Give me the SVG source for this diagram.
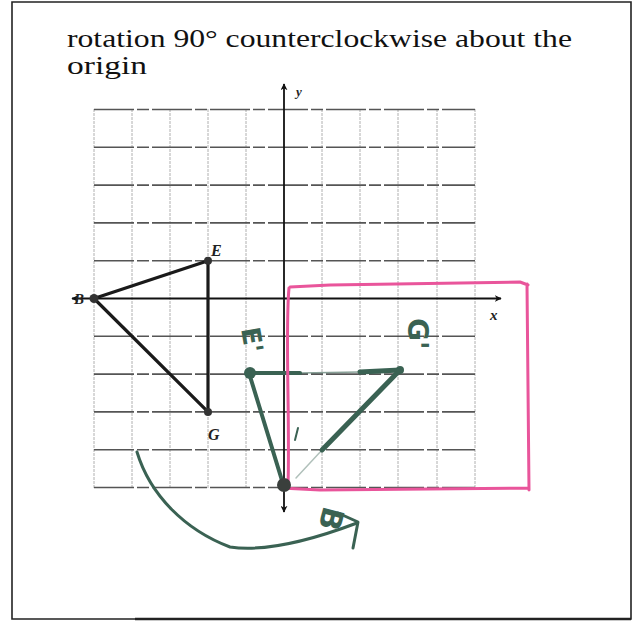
<svg xmlns="http://www.w3.org/2000/svg" width="633" height="622" viewBox="0 0 633 622">
<style>
.title{font-family:"Liberation Serif","Times New Roman",serif;font-size:26px;fill:#111}
.lab{font-family:"Liberation Serif","Times New Roman",serif;font-style:italic;font-weight:bold;fill:#222}
.hv{stroke:#555;stroke-width:1.6;stroke-dasharray:40 3 12 3}
.vv{stroke:#b0b0b0;stroke-width:1;stroke-dasharray:3 1}
.axis{stroke:#111;stroke-width:1.8;fill:none}
.tri{stroke:#1a1a1a;stroke-width:3.2;fill:none;stroke-linecap:round}
.pen{stroke:#3a6253;fill:none;stroke-linecap:round;stroke-linejoin:round}
.pink{stroke:#e9559b;stroke-width:3;fill:none;stroke-linecap:round;stroke-linejoin:round}
.hand{font-family:"DejaVu Sans",sans-serif;font-weight:bold;fill:#3a6253}
</style>
<defs>
<marker id="ah" viewBox="0 0 10 10" refX="9" refY="5" markerWidth="7" markerHeight="7" orient="auto-start-reverse" markerUnits="userSpaceOnUse">
<path d="M0,0 L10,5 L0,10 L3,5 z" fill="#111"/>
</marker>
</defs>
<rect width="633" height="622" fill="#fff"/>
<g id="frame">
<path d="M12,2 L631,2 L631,619 L12,619 Z" fill="none" stroke="#222" stroke-width="1.6"/>
<line x1="135" y1="619" x2="631" y2="619" stroke="#222" stroke-width="2.6"/>
</g>
<g id="title">
<text class="title" x="67" y="47" textLength="505" lengthAdjust="spacingAndGlyphs">rotation 90° counterclockwise about the</text>
<text class="title" x="67" y="74" textLength="80" lengthAdjust="spacingAndGlyphs">origin</text>
</g>
<g id="grid">
<line class="vv" x1="94" y1="109" x2="94" y2="488"/>
<line class="vv" x1="132" y1="109" x2="132" y2="488"/>
<line class="vv" x1="170" y1="109" x2="170" y2="488"/>
<line class="vv" x1="208" y1="109" x2="208" y2="488"/>
<line class="vv" x1="246" y1="109" x2="246" y2="488"/>
<line class="vv" x1="322" y1="109" x2="322" y2="488"/>
<line class="vv" x1="360" y1="109" x2="360" y2="488"/>
<line class="vv" x1="398" y1="109" x2="398" y2="488"/>
<line class="vv" x1="437" y1="109" x2="437" y2="488"/>
<line class="vv" x1="475" y1="109" x2="475" y2="488"/>
<line class="hv" x1="94" y1="109.5" x2="475" y2="109.5"/>
<line class="hv" x1="94" y1="147.3" x2="475" y2="147.3"/>
<line class="hv" x1="94" y1="185.1" x2="475" y2="185.1"/>
<line class="hv" x1="94" y1="222.9" x2="475" y2="222.9"/>
<line class="hv" x1="94" y1="260.7" x2="475" y2="260.7"/>
<line class="hv" x1="94" y1="336.3" x2="475" y2="336.3"/>
<line class="hv" x1="94" y1="374.1" x2="475" y2="374.1"/>
<line class="hv" x1="94" y1="411.9" x2="475" y2="411.9"/>
<line class="hv" x1="94" y1="449.7" x2="475" y2="449.7"/>
<line class="hv" x1="94" y1="487.5" x2="475" y2="487.5"/>
</g>
<g id="axes">
<line class="axis" x1="72" y1="298.5" x2="501" y2="298.5" marker-start="url(#ah)" marker-end="url(#ah)"/>
<line class="axis" x1="284" y1="84" x2="284" y2="512" marker-start="url(#ah)" marker-end="url(#ah)"/>
<text class="lab" x="296" y="96" font-size="13">y</text>
<text class="lab" x="490" y="320" font-size="15">x</text>
</g>
<g id="connectors">
<line class="tri" x1="94" y1="298.5" x2="208" y2="260.7"/>
<line class="tri" x1="208" y1="260.7" x2="208" y2="411.9"/>
<line class="tri" x1="94" y1="298.5" x2="208" y2="411.9"/>
<path class="pen" stroke-width="4" d="M249,373 L300,373"/>
<path class="pen" stroke-width="1.5" opacity="0.6" d="M300,373 L360,372"/>
<path class="pen" stroke-width="5" d="M360,372 L400,370"/>
<path class="pen" stroke-width="4" d="M249,373 L284,487"/>
<path class="pen" stroke-width="5" d="M400,370 L322,450"/>
<path class="pen" stroke-width="1.5" opacity="0.4" d="M322,450 L296,478"/>
<path class="pen" stroke-width="3" d="M137,452 C150,495 185,530 230,547 C270,553 320,537 357,523"/>
<path class="pen" stroke-width="3" d="M338,513 L358,522 L353,548"/>
<path class="pen" stroke-width="2" d="M298,428 L295,440"/>
<path class="pink" d="M289,288 C285,330 290,420 288,487 M290,287 L330,285 L520,282 L528,285 M527,284 L529,490 M281,488 L320,490 L528,488"/>
</g>
<g id="node-B">
<circle cx="94" cy="298.5" r="4.5" fill="#333"/>
<text class="lab" x="74" y="304" font-size="15">B</text>
</g>
<g id="node-E">
<circle cx="208" cy="260.7" r="4" fill="#333"/>
<text class="lab" x="211" y="256" font-size="16">E</text>
</g>
<g id="node-G">
<circle cx="208" cy="411.9" r="4" fill="#333"/>
<text class="lab" x="208" y="440" font-size="16">G</text>
</g>
<g id="node-E1">
<circle cx="250" cy="373" r="6" fill="#3a6253"/>
<text class="hand" font-size="26" transform="translate(241,329) rotate(80)">E'</text>
</g>
<g id="node-G1">
<circle cx="400" cy="370" r="4" fill="#3a6253"/>
<text class="hand" font-size="28" transform="translate(408,318) rotate(90)">G'</text>
</g>
<g id="node-B1">
<circle cx="284" cy="485" r="7" fill="#3a3f3c"/>
<text class="hand" font-size="30" transform="translate(324,505) rotate(105)">B</text>
</g>
</svg>
